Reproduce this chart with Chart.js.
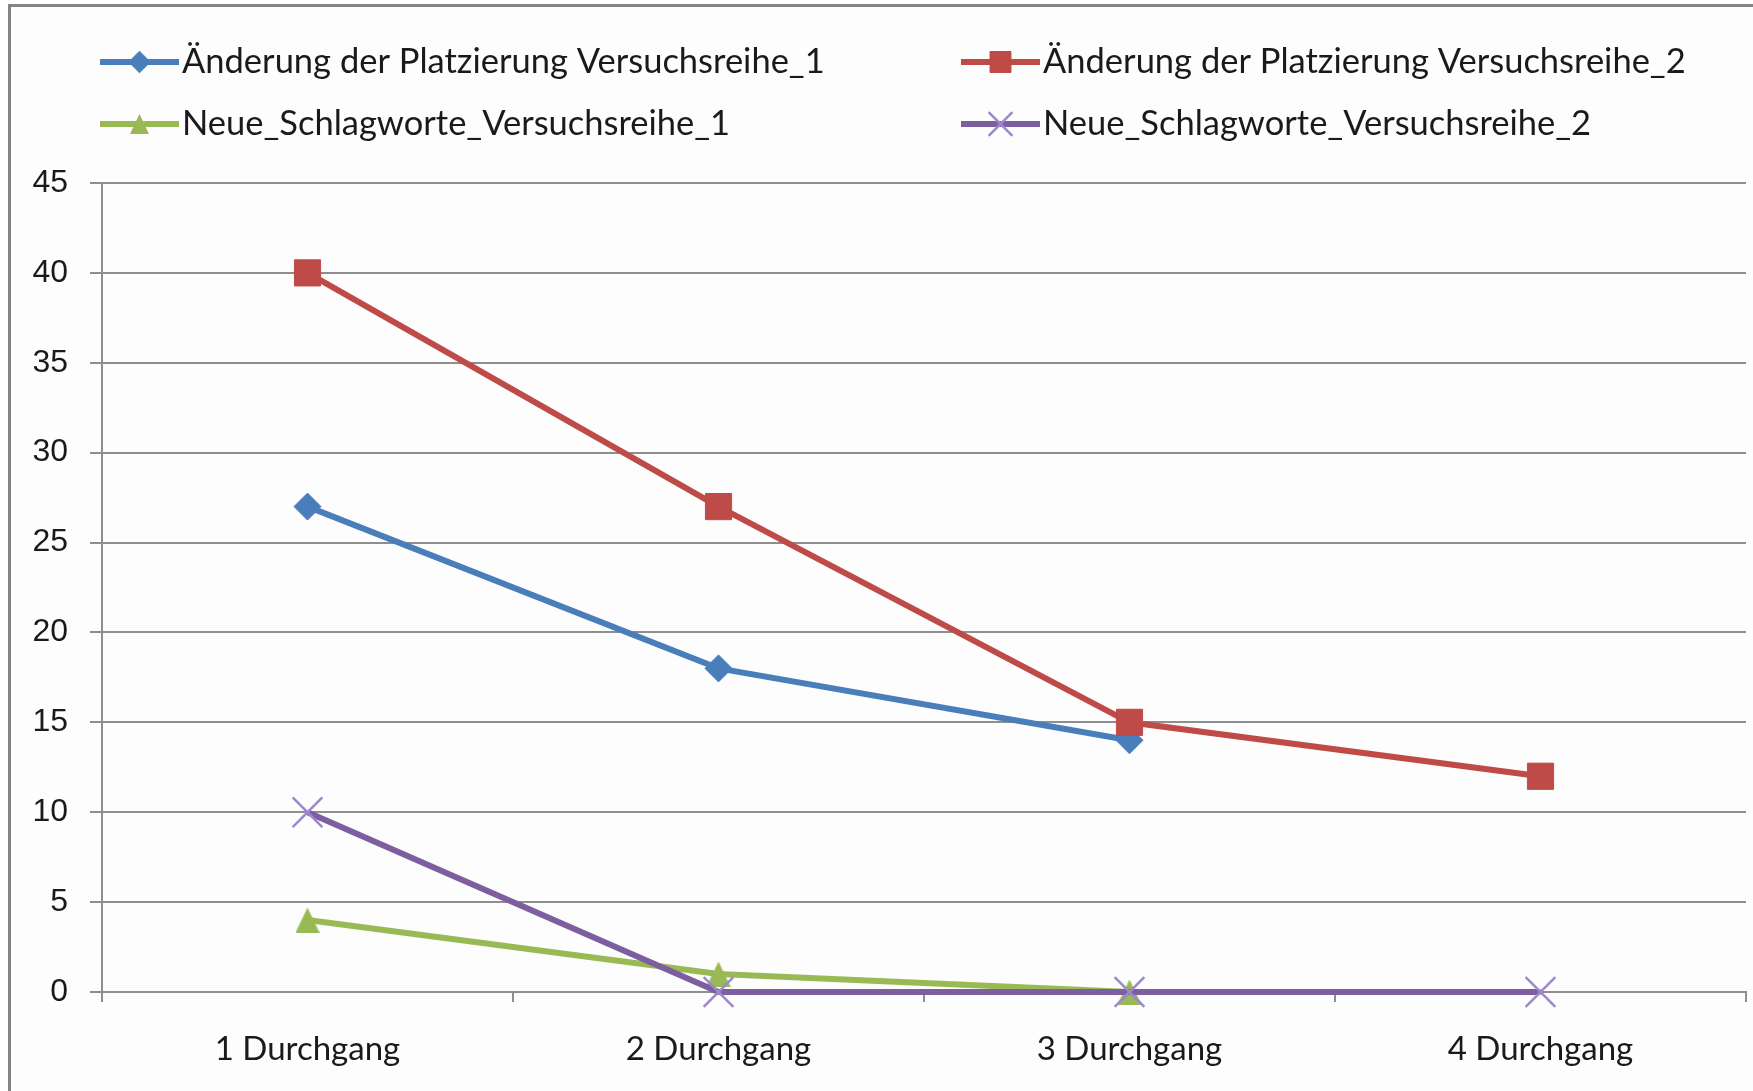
<!DOCTYPE html>
<html>
<head>
<meta charset="utf-8">
<script src="https://cdn.jsdelivr.net/npm/chart.js@4/dist/chart.umd.min.js"></script>
<style>
  html, body { margin: 0; padding: 0; background: #ffffff; overflow: hidden; }
  #wrap { position: relative; width: 1753px; height: 1091px; }
</style>
</head>
<body>
<div id="wrap"><canvas id="chart" width="1753" height="1091"></canvas></div>
<script>
// ---- data ----
const categories = ['1 Durchgang', '2 Durchgang', '3 Durchgang', '4 Durchgang'];
const seriesNames = [
  'Änderung der Platzierung Versuchsreihe_1',
  'Änderung der Platzierung Versuchsreihe_2',
  'Neue_Schlagworte_Versuchsreihe_1',
  'Neue_Schlagworte_Versuchsreihe_2'
];
const platzierungReihe1 = [27, 18, 14, null];
const platzierungReihe2 = [40, 27, 15, 12];
const schlagworteReihe1 = [4, 1, 0, null];
const schlagworteReihe2 = [10, 0, 0, 0];
const yMin = 0;
const yMax = 45;
const yStep = 5;

// ---- styles ----
const LABEL_FONT = 'Lato, "Open Sans", sans-serif';
const TICK_FONT = '"Liberation Sans", Arial, sans-serif';
const GRID = '#8e8e8e';
const TEXT = '#1a1a1a';

// Triangle marker centred on its bounding box (not its centroid)
function triangleMarker(w, h, color) {
  const c = document.createElement('canvas');
  c.width = w; c.height = h;
  const g = c.getContext('2d');
  g.fillStyle = color;
  g.beginPath();
  g.moveTo(w / 2, 0);
  g.lineTo(w, h);
  g.lineTo(0, h);
  g.closePath();
  g.fill();
  return c;
}

const seriesStyles = [
  { color: '#4A7EBB', marker: '#4A7EBB', pointStyle: 'rectRot',  radius: 13.5, markerBorder: 1 },
  { color: '#BE4B48', marker: '#BE4B48', pointStyle: 'rect',     radius: 18.5, markerBorder: 1 },
  { color: '#98B954', marker: '#98B954', pointStyle: triangleMarker(24, 25, '#98B954'), radius: 13, markerBorder: 0 },
  { color: '#7D5FA0', marker: '#9D88CC', pointStyle: 'crossRot', radius: 21,   markerBorder: 2.5 }
];
const legendTriangle = triangleMarker(19, 20, '#98B954');
const seriesData = [platzierungReihe1, platzierungReihe2, schlagworteReihe1, schlagworteReihe2];

const datasets = seriesData.map((d, i) => {
  const s = seriesStyles[i];
  return {
    label: seriesNames[i],
    data: d,
    borderColor: s.color,
    backgroundColor: s.color,
    borderWidth: 6,
    tension: 0,
    spanGaps: false,
    clip: false,
    pointStyle: s.pointStyle,
    pointRadius: s.radius,
    pointHoverRadius: s.radius,
    pointBackgroundColor: s.marker,
    pointBorderColor: s.marker,
    pointBorderWidth: s.markerBorder,
    order: seriesData.length - i   // later series drawn on top
  };
});

// Legend laid out in two aligned columns
const legendLayout = {
  columns: [100, 961],
  rows: [62, 124],
  sampleLength: 79,
  textGap: 3,
  fontSize: 34.5,
  markerScale: 0.8
};

const frameAndLegend = {
  id: 'frameAndLegend',
  beforeDraw(chart) {
    const ctx = chart.ctx;
    ctx.save();
    ctx.fillStyle = '#ffffff';
    ctx.fillRect(0, 0, chart.width, chart.height);
    ctx.fillStyle = '#fdfdfd';
    ctx.fillRect(9, 5, chart.width - 9, chart.height - 5);
    ctx.strokeStyle = '#858585';
    ctx.lineWidth = 3;
    ctx.beginPath();
    ctx.moveTo(9.5, chart.height);
    ctx.lineTo(9.5, 5.5);
    ctx.lineTo(chart.width, 5.5);
    ctx.stroke();
    ctx.restore();
  },
  afterDraw(chart) {
    const ctx = chart.ctx;
    const L = legendLayout;
    ctx.save();
    chart.data.datasets.forEach((ds, i) => {
      const x = L.columns[i % 2];
      const y = L.rows[Math.floor(i / 2)];
      ctx.strokeStyle = ds.borderColor;
      ctx.lineWidth = ds.borderWidth;
      ctx.lineCap = 'butt';
      ctx.beginPath();
      ctx.moveTo(x, y);
      ctx.lineTo(x + L.sampleLength, y);
      ctx.stroke();
      ctx.fillStyle = ds.pointBackgroundColor;
      ctx.strokeStyle = ds.pointBorderColor;
      ctx.lineWidth = ds.pointBorderWidth;
      const style = typeof ds.pointStyle === 'string' ? ds.pointStyle : legendTriangle;
      Chart.helpers.drawPoint(ctx, {
        pointStyle: style,
        rotation: 0,
        radius: ds.pointRadius * L.markerScale,
        borderWidth: ds.pointBorderWidth
      }, x + L.sampleLength / 2, y);
      ctx.fillStyle = TEXT;
      ctx.font = L.fontSize + 'px ' + LABEL_FONT;
      ctx.textAlign = 'left';
      ctx.textBaseline = 'middle';
      ctx.fillText(ds.label, x + L.sampleLength + L.textGap, y);
    });
    ctx.restore();
  }
};

new Chart(document.getElementById('chart'), {
  type: 'line',
  data: { labels: categories, datasets: datasets },
  plugins: [frameAndLegend],
  options: {
    responsive: false,
    animation: false,
    devicePixelRatio: 1,
    events: [],
    layout: { autoPadding: false, padding: { top: 183, right: 7, left: 0, bottom: 0 } },
    plugins: { legend: { display: false }, tooltip: { enabled: false }, title: { display: false } },
    scales: {
      x: {
        type: 'category',
        offset: true,
        grid: { offset: true, drawOnChartArea: false, drawTicks: true, tickLength: 10, color: GRID, lineWidth: 2 },
        border: { display: true, color: GRID, width: 2 },
        ticks: { color: TEXT, font: { family: LABEL_FONT, size: 33 }, padding: 28, maxRotation: 0 },
        afterFit(scale) { scale.height = 99; }
      },
      y: {
        min: yMin,
        max: yMax,
        grid: { color: GRID, lineWidth: 2, drawTicks: true, tickLength: 12 },
        border: { display: true, color: GRID, width: 2 },
        ticks: { stepSize: yStep, color: TEXT, font: { family: TICK_FONT, size: 32 }, padding: 22 },
        afterFit(scale) { scale.width = 102; }
      }
    }
  }
});
</script>
</body>
</html>
